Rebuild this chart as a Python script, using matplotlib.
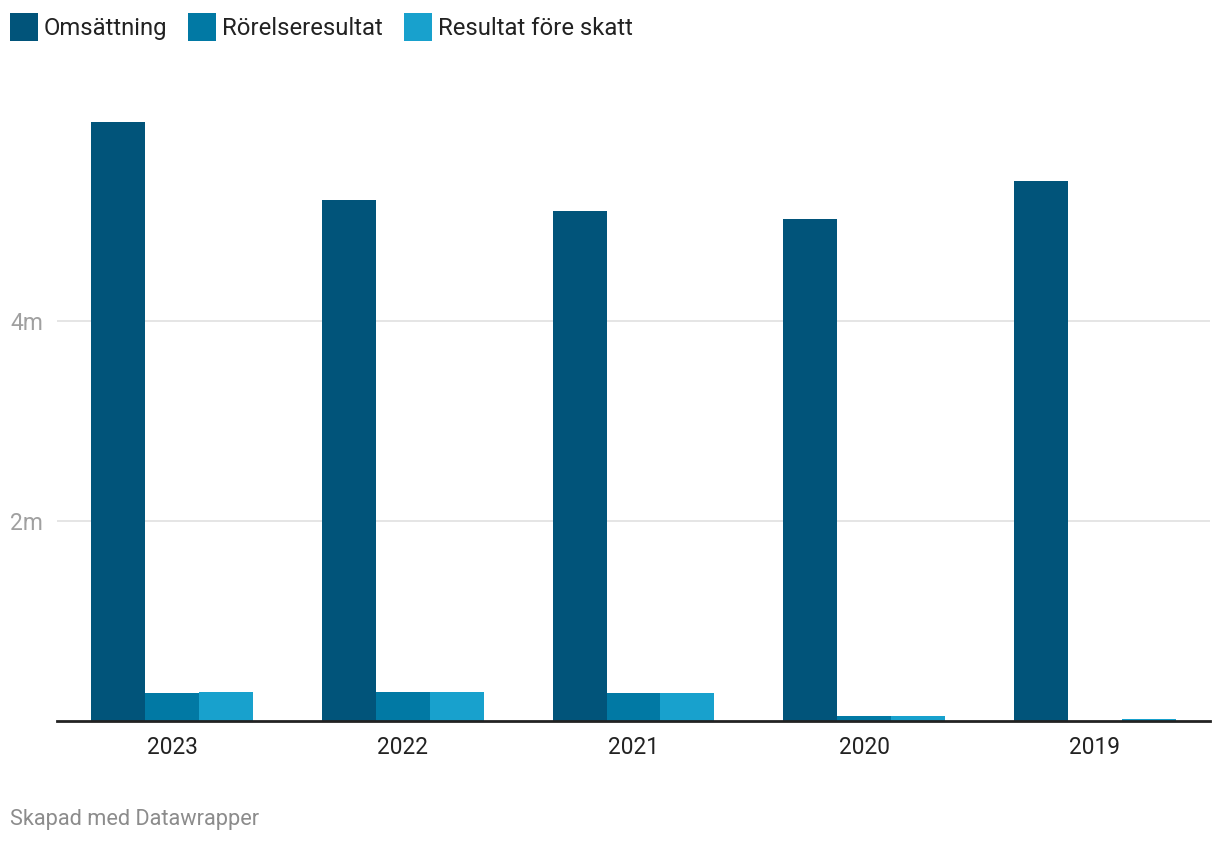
import matplotlib
matplotlib.use("Agg")
import matplotlib.pyplot as plt
import numpy as np
from matplotlib.patches import Rectangle

years = ["2023", "2022", "2021", "2020", "2019"]
omsattning = [5.99, 5.21, 5.10, 5.02, 5.40]
rorelseresultat = [0.28, 0.29, 0.28, 0.05, 0.0]
resultat_fore_skatt = [0.29, 0.29, 0.28, 0.05, 0.02]
series_names = ["Omsättning", "Rörelseresultat", "Resultat före skatt"]
colors = ["#01547a", "#0179a4", "#18a1cd"]
yticks = [2, 4]
ytick_labels = ["2m", "4m"]

plt.rcParams['font.family'] = ['Roboto', 'DejaVu Sans']

W, H = 1220, 844
fig = plt.figure(figsize=(W/100, H/100), dpi=100)
left, right = 57/W, 1210/W
bottom, top = (H-721)/H, (H-101)/H
ax = fig.add_axes([left, bottom, right-left, top-bottom])

x = np.arange(len(years))
bw = 0.234
for i, (vals, c) in enumerate(zip([omsattning, rorelseresultat, resultat_fore_skatt], colors)):
    ax.bar(x + (i-1)*bw, vals, width=bw, color=c, linewidth=0, zorder=3)

ax.set_xlim(-0.5, len(years)-0.5)
ax.set_ylim(0, 6.2)
ax.set_yticks(yticks)
ax.set_yticklabels(ytick_labels)
ax.set_xticks(x)
ax.set_xticklabels(years)
ax.tick_params(axis='y', length=0, pad=10, labelsize=16.5, labelcolor="#a0a0a0")
ax.tick_params(axis='x', length=0, pad=11, labelsize=16.3, labelcolor="#222222")
ax.grid(axis='y', color="#e3e3e3", linewidth=1.3, zorder=0)
for s in ["top", "right", "left"]:
    ax.spines[s].set_visible(False)
ax.spines["bottom"].set_color("#222222")
ax.spines["bottom"].set_linewidth(2)
ax.spines["bottom"].set_zorder(4)

# legend drawn manually
legend_x = [10, 188, 404]
for lx, name, c in zip(legend_x, series_names, colors):
    fig.patches.append(Rectangle((lx/W, (H-41)/H), 28/W, 28/H, transform=fig.transFigure,
                                 facecolor=c, edgecolor='none'))
    fig.text((lx+34)/W, (H-28.5)/H, name, fontsize=17.2, color="#222222", va='center', ha='left')

fig.text(10/W, (H-820)/H, "Skapad med Datawrapper", fontsize=15.7, color="#8c8c8c", va='center', ha='left')

fig.savefig("out.png", dpi=100)
